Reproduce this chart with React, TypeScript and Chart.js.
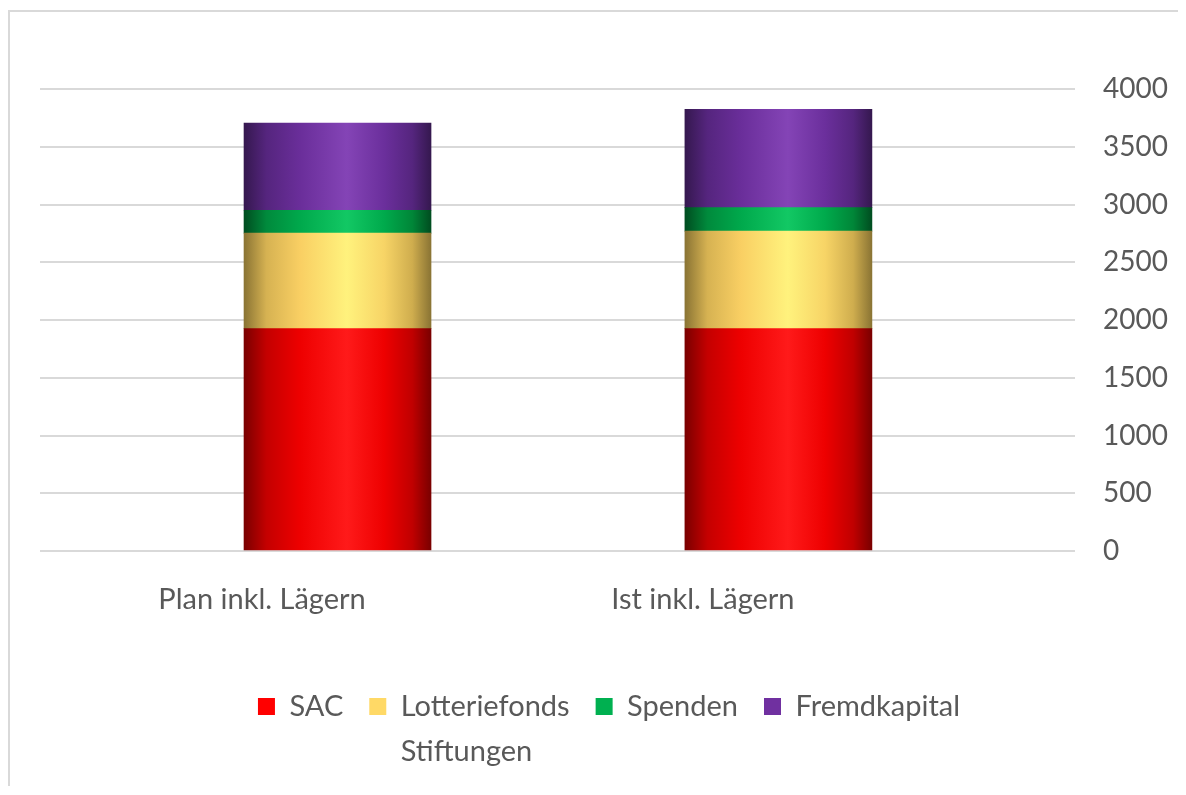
import React, { useEffect, useRef } from "react";
import { Chart, registerables } from "chart.js";

Chart.register(...registerables);

const categories = ["Plan inkl. Lägern", "Ist inkl. Lägern"];
const seriesNames = ["SAC", "Lotteriefonds Stiftungen", "Spenden", "Fremdkapital"];
const sacValues = [1925, 1925];
const lotterieValues = [827, 845];
const spendenValues = [198, 203];
const fremdValues = [754, 852];
const yTicks = [0, 500, 1000, 1500, 2000, 2500, 3000, 3500, 4000];

const legendColors = ["#ff0000", "#ffd966", "#00b050", "#7030a0"];
const gradientStops: [number, string][][] = [
  [[0, "#7a0000"], [0.12, "#c40000"], [0.3, "#ee0000"], [0.55, "#ff1a1a"], [0.75, "#ee0000"], [0.9, "#c00000"], [1, "#7a0000"]],
  [[0, "#8a7434"], [0.12, "#d6b252"], [0.3, "#f9cf63"], [0.55, "#fff27d"], [0.75, "#f7d466"], [0.9, "#cfad4e"], [1, "#8a7434"]],
  [[0, "#004d20"], [0.12, "#008a3c"], [0.3, "#00a94c"], [0.55, "#12c864"], [0.75, "#00aa4c"], [0.9, "#008638"], [1, "#004d20"]],
  [[0, "#35184f"], [0.12, "#55257e"], [0.3, "#6a2e9a"], [0.55, "#8444b6"], [0.75, "#6b2f9c"], [0.9, "#55257e"], [1, "#35184f"]],
];

const BAR_THICKNESS = 187;
const FONT = "Lato";
const TEXT_COLOR = "#595959";

function multiline(lines: string[]): any {
  const arr: any = lines.slice();
  const longest = lines.reduce((p, c) => (c.length > p.length ? c : p), "");
  arr.toString = () => longest;
  return arr;
}

function legendText(name: string): any {
  if (name === "Lotteriefonds Stiftungen") return multiline(["Lotteriefonds", "Stiftungen"]);
  return name;
}

function gradientFor(idx: number) {
  return (c: any) => {
    const chart = c.chart;
    const xs = chart.scales?.x;
    const fallback = legendColors[idx];
    if (!chart.chartArea || !xs) return fallback;
    const v = c.parsed?.x ?? c.dataIndex;
    const cx = xs.getPixelForValue(v);
    if (!isFinite(cx)) return fallback;
    const g = chart.ctx.createLinearGradient(cx - BAR_THICKNESS / 2, 0, cx + BAR_THICKNESS / 2, 0);
    gradientStops[idx].forEach(([o, col]) => g.addColorStop(o, col));
    return g;
  };
}

// Give the legend box room for the second line of the wrapped label
const legendExtraHeight = {
  id: "legendExtraHeight",
  beforeLayout(chart: any) {
    const lg = chart.legend;
    if (lg && !lg._extraPatched) {
      const orig = lg.fit.bind(lg);
      lg.fit = function () {
        orig();
        this.height += 45;
      };
      lg._extraPatched = true;
    }
  },
};

export default function App() {
  const canvasRef = useRef<HTMLCanvasElement | null>(null);

  useEffect(() => {
    if (!canvasRef.current) return;
    const seriesValues = [sacValues, lotterieValues, spendenValues, fremdValues];
    const chart = new Chart(canvasRef.current, {
      type: "bar",
      data: {
        datasets: seriesValues.map((vals, i) => ({
          label: seriesNames[i],
          data: vals.map((y, xi) => ({ x: xi, y })),
          backgroundColor: gradientFor(i),
          borderWidth: 0,
          barThickness: BAR_THICKNESS,
        })),
      },
      options: {
        responsive: false,
        animation: false,
        layout: { padding: { left: 30, right: 0, top: 77, bottom: 10 } },
        scales: {
          x: {
            type: "linear",
            stacked: true,
            offset: false,
            min: -0.6748,
            max: 1.6727,
            grid: { display: false },
            border: { display: false },
            afterBuildTicks: (scale: any) => {
              scale.ticks = categories.map((_, i) => ({ value: i }));
            },
            afterFit: (scale: any) => {
              scale.height = 115;
            },
            ticks: {
              autoSkip: false,
              maxRotation: 0,
              padding: 23,
              labelOffset: -75.5,
              color: TEXT_COLOR,
              font: { family: FONT, size: 29 },
              callback: (v: any) => categories[v as number] ?? "",
            },
          },
          y: {
            position: "right",
            stacked: true,
            min: 0,
            max: 4000,
            grid: { color: "#d9d9d9", lineWidth: 2, drawTicks: false },
            border: { display: false },
            afterBuildTicks: (scale: any) => {
              scale.ticks = yTicks.map((v) => ({ value: v }));
            },
            afterFit: (scale: any) => {
              scale.width = 103;
            },
            ticks: {
              padding: 28,
              color: TEXT_COLOR,
              font: { family: FONT, size: 28 },
              callback: (v: any) => String(v),
            },
          },
        },
        plugins: {
          tooltip: { enabled: false },
          legend: {
            position: "bottom",
            align: "center",
            labels: {
              boxWidth: 17,
              boxHeight: 17,
              padding: 26,
              color: TEXT_COLOR,
              font: { family: FONT, size: 29, lineHeight: 1.55 },
              generateLabels: (ch: any) =>
                ch.data.datasets.map((ds: any, i: number) => ({
                  text: legendText(ds.label),
                  fillStyle: legendColors[i],
                  strokeStyle: legendColors[i],
                  lineWidth: 0,
                  hidden: !ch.isDatasetVisible(i),
                  datasetIndex: i,
                  fontColor: TEXT_COLOR,
                })),
            },
          },
        },
      },
      plugins: [legendExtraHeight],
    } as any);
    return () => chart.destroy();
  }, []);

  return (
    <div style={{ paddingTop: 2 }}>
      <div style={{ borderTop: "2px solid #d9d9d9", borderLeft: "2px solid #d9d9d9" }}>
        <canvas ref={canvasRef} width={1168} height={774} style={{ display: "block" }} />
      </div>
    </div>
  );
}
